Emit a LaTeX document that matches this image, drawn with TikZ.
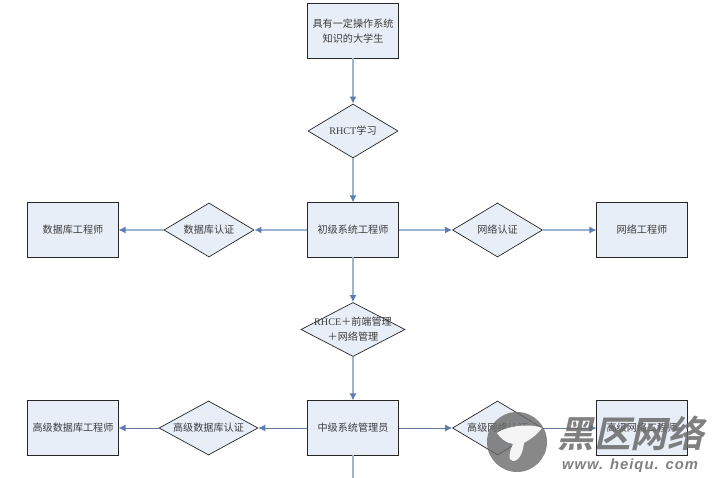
\documentclass[tikz,border=0pt]{standalone}
\usepackage{fontspec}
\setmainfont{Liberation Serif}
\newfontfamily\cjk{Noto Sans CJK SC}
\newfontfamily\cjkbold{Noto Sans CJK SC Bold}
\newfontfamily\marksans[LetterSpace=7]{Liberation Sans}
\usetikzlibrary{shapes.geometric, arrows.meta}
\definecolor{boxfill}{HTML}{E8EEF7}
\definecolor{flowline}{HTML}{9DB4D2}
\definecolor{flowtip}{HTML}{5B7DB1}
\definecolor{thinline}{HTML}{5F7C99}
\definecolor{labeltext}{HTML}{3C3C3C}
\definecolor{markgray}{HTML}{6A6A6A}
\tikzset{
	stage/.style = {draw = black!85, line width = 0.7pt, fill = boxfill, rectangle, minimum width = 2.25cm, minimum height = 1.35cm, inner sep = 0pt, align = center, text = labeltext, font = \fontsize{7.2}{10.5}\selectfont\cjk},
	exam/.style = {draw = black!85, line width = 0.5pt, fill = boxfill, diamond, aspect = 1.67, minimum width = 2.25cm, minimum height = 1.35cm, inner sep = 0pt},
	examtext/.style = {align = center, text = labeltext, inner sep = 0pt, font = \fontsize{7.2}{10.5}\selectfont\cjk},
	flow/.style = {flowline, line width = 1.4pt, -{Latex[length = 5pt, width = 5pt, color = flowtip]}},
	thinflow/.style = {thinline, line width = 0.6pt, -{Latex[length = 5pt, width = 5pt, color = flowtip]}}
}
\begin{document}
\begin{tikzpicture}[x = 0.025cm, y = -0.025cm]
\useasboundingbox (0,0) rectangle (719,478);

\node [stage] (v1) at (353,31) {具有一定操作系统\\知识的大学生};
\node [exam] (d1) at (353,131) {};
\node [examtext] (t1) at (353,131) {{\rmfamily RHCT}学习};
\node [stage] (v2) at (353,230) {初级系统工程师};
\node [exam] (d2) at (209,230) {};
\node [examtext] (t2) at (209,230) {数据库认证};
\node [stage] (v3) at (73,230) {数据库工程师};
\node [exam] (d3) at (497.5,230) {};
\node [examtext] (t3) at (497.5,230) {网络认证};
\node [stage] (v4) at (642,230) {网络工程师};

\node [exam, minimum width = 2.6cm] (d4) at (353,329.5) {};
\node [examtext] (t4) at (353,329.5) {{\rmfamily RHCE}＋前端管理\\＋网络管理};
\node [stage] (v5) at (353,428) {中级系统管理员};
\node [exam, minimum width = 2.475cm] (d5) at (208.5,428) {};
\node [examtext] (t5) at (208.5,428) {高级数据库认证};
\node [stage] (v6) at (73,428) {高级数据库工程师};
\node [exam] (d6) at (497.5,428) {};
\node [examtext] (t6) at (497.5,428) {高级网络认证};
\node [stage] (v7) at (642,428) {高级网络工程师};
\coordinate (v8) at (353,478);

\draw [flow] (v1) edge (d1);
\draw [flow] (d1) edge (v2);
\draw [flow] (v2) edge (d2);
\draw [flow] (d2) edge (v3);
\draw [flow] (v2) edge (d3);
\draw [flow] (d3) edge (v4);
\draw [flow] (v2) edge (d4);
\draw [flow] (d4) edge (v5);
\draw [thinflow] (v5) edge (d5);
\draw [thinflow] (d5) edge (v6);
\draw [thinflow] (v5) edge (d6);
\draw [thinflow] (d6) edge (v7);
\draw [flowline, line width = 1.4pt] (v5) -- (v8);

% site mark over the lower right corner
\fill [markgray, opacity = 0.8] (517,442) circle (30);
\fill [white, opacity = 0.92] (497,433) .. controls (506,426) and (530,423) .. (542,428) .. controls (536,436) and (529,440) .. (524,443) .. controls (523,451) and (520,461) .. (513,461) .. controls (507,461) and (510,450) .. (513,444) .. controls (506,443) and (500,438) .. (497,433) -- cycle;
\node [markgray, opacity = 0.85, inner sep = 0pt, xslant = 0.22, transform shape, font = \fontsize{26}{26}\selectfont\cjkbold] (m1) at (634,433) {黑区网络};
\node [markgray, opacity = 0.85, inner sep = 0pt, font = \fontsize{10.5}{10.5}\selectfont\marksans\bfseries\itshape] (m2) at (630,466) {www. heiqu. com};
\end{tikzpicture}
\end{document}
